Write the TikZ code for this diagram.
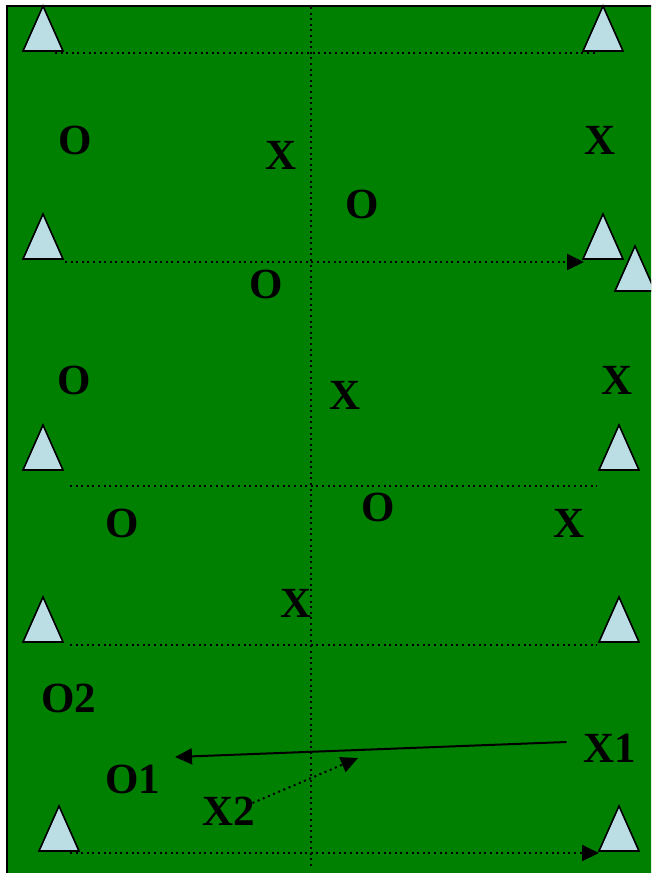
\documentclass[tikz,border=0pt]{standalone}
\usepackage{fontspec}
\setmainfont{Liberation Serif}
\usetikzlibrary{arrows.meta}
\definecolor{field}{RGB}{0,128,0}
\definecolor{conefill}{RGB}{187,221,228}
\tikzset{
  x=1pt, y=-1pt,
  conestyle/.style={draw=black, fill=conefill, line width=1.6pt, line join=miter},
  cone/.pic={\path[conestyle] (-20,0) -- (0,-45) -- (20,0) -- cycle;},
  dotline/.style={draw=black, line width=2pt, dash pattern=on 2pt off 3.6pt},
  lbl/.style={font=\fontsize{43}{43}\selectfont\bfseries, inner sep=0pt, text=black},
  tip/.style={-{Triangle[length=17pt,width=16pt]}}
}
\begin{document}
\begin{tikzpicture}
\useasboundingbox (0,0) rectangle (651,873);
\begin{scope}
\clip (0,0) rectangle (651,873);
\fill[white] (0,0) rectangle (651,873);
\draw[fill=field, line width=2.2pt] (7,6) rectangle (665,890);
% dotted field lines
\coordinate (l1a) at (55,53);  \coordinate (l1b) at (597,53);
\coordinate (l2a) at (65,262); \coordinate (l2b) at (584,262);
\coordinate (l3a) at (70,486); \coordinate (l3b) at (597,486);
\coordinate (l4a) at (70,645); \coordinate (l4b) at (597,645);
\coordinate (l5a) at (70,853); \coordinate (l5b) at (599,853);
\coordinate (va) at (311,7);   \coordinate (vb) at (311,868);
\draw[dotline] (l1a) -- (l1b);
\draw[dotline, tip] (l2a) -- (l2b);
\draw[dotline] (l3a) -- (l3b);
\draw[dotline] (l4a) -- (l4b);
\draw[dotline, tip] (l5a) -- (l5b);
\draw[dotline] (va) -- (vb);
% cones
\pic at (43,51) {cone};
\pic at (603,51) {cone};
\pic at (43,259) {cone};
\pic at (603,259) {cone};
\pic at (635,291) {cone};
\pic at (43,470) {cone};
\pic at (619,470) {cone};
\pic at (43,642) {cone};
\pic at (619,642) {cone};
\pic at (59,851) {cone};
\pic at (619,851) {cone};
% labels
\node[lbl] (o1) at (75,140) {O};
\node[lbl] (x1) at (281,155) {X};
\node[lbl] (o2) at (362,204) {O};
\node[lbl] (x2) at (600,140) {X};
\node[lbl] (o3) at (266,284) {O};
\node[lbl] (o4) at (74,380) {O};
\node[lbl] (x3) at (345,395) {X};
\node[lbl] (x4) at (617,380) {X};
\node[lbl] (o5) at (122,523) {O};
\node[lbl] (o6) at (378,507) {O};
\node[lbl] (x5) at (569,523) {X};
\node[lbl] (x6) at (296,603) {X};
\node[lbl] (O2) at (69,698) {O2};
\node[lbl] (X1) at (610,748) {X1};
\node[lbl] (O1) at (133,779) {O1};
\node[lbl] (X2) at (229,811) {X2};
% runs
\coordinate (passend) at (175,757);
\coordinate (runend) at (358,758);
\draw[line width=2pt, tip] (X1.west) ++(-17,-6) -- (passend);
\draw[dotline, tip] (X2.east) ++(-3,-8) -- (runend);
\end{scope}
\end{tikzpicture}
\end{document}
